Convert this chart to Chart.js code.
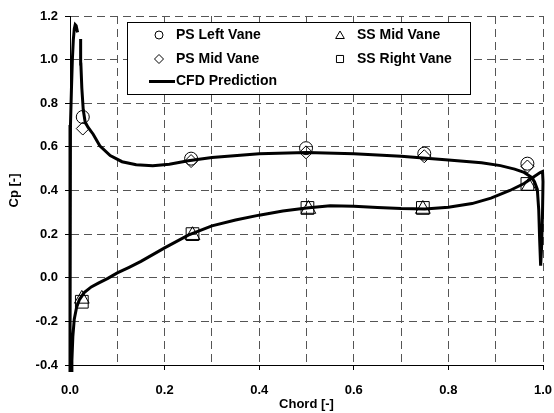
<!DOCTYPE html>
<html>
<head>
<meta charset="utf-8">
<script src="https://cdn.jsdelivr.net/npm/chart.js@4/dist/chart.umd.min.js"></script>
<style>
  body { margin: 0; background: #fff; }
  #wrap { width: 554px; height: 413px; }
</style>
</head>
<body>
<div id="wrap"><canvas id="myChart" width="554" height="413"></canvas></div>
<script>
// measured points
var psLeftX  = [0.027, 0.256, 0.499, 0.749, 0.967];
var psLeftCp = [0.737, 0.546, 0.594, 0.569, 0.523];
var psMidX   = [0.027, 0.256, 0.499, 0.749, 0.967];
var psMidCp  = [0.684, 0.535, 0.575, 0.557, 0.510];
var ssMidX   = [0.025, 0.259, 0.504, 0.746, 0.970];
var ssMidCp  = [-0.097, 0.195, 0.315, 0.315, 0.420];
var ssRightX = [0.025, 0.259, 0.502, 0.746, 0.967];
var ssRightCp = [-0.110, 0.200, 0.320, 0.320, 0.430];

// CFD curve, traced around the vane (leading edge -> SS -> trailing edge -> PS)
var cfdChord = [0.016, 0.013, 0.011, 0.009, 0.007, 0.005, 0.003, 0.001, 0.0, 0.0, 0.0, 0.0,
  0.003, 0.004, 0.006, 0.009, 0.014, 0.02, 0.03, 0.045, 0.06, 0.08, 0.1, 0.125, 0.15, 0.2,
  0.25, 0.3, 0.35, 0.4, 0.45, 0.5, 0.55, 0.6, 0.65, 0.7, 0.75, 0.8, 0.85, 0.89, 0.93, 0.96,
  0.98, 0.994, 0.999, 1.0, 0.999, 0.997, 0.995, 0.993, 0.991, 0.988, 0.982, 0.975, 0.96,
  0.94, 0.91, 0.87, 0.8, 0.7, 0.6, 0.5, 0.4, 0.3, 0.25, 0.21, 0.175, 0.14, 0.11, 0.085,
  0.063, 0.049, 0.038, 0.032, 0.028, 0.025, 0.023, 0.0225];
var cfdCp = [1.125, 1.155, 1.16, 1.14, 1.09, 1.0, 0.86, 0.70, 0.55, 0.2, -0.2, -0.43,
  -0.43, -0.38, -0.27, -0.19, -0.135, -0.1, -0.068, -0.042, -0.025, -0.003, 0.022, 0.048, 0.075, 0.137,
  0.195, 0.238, 0.265, 0.287, 0.306, 0.32, 0.33, 0.328, 0.322, 0.317, 0.315, 0.323, 0.34, 0.365, 0.4, 0.432,
  0.462, 0.482, 0.487, 0.44, 0.3, 0.14, 0.055, 0.17, 0.31, 0.405, 0.44, 0.462, 0.483,
  0.498, 0.514, 0.527, 0.54, 0.557, 0.569, 0.574, 0.569, 0.551, 0.536, 0.52, 0.513, 0.518, 0.532, 0.56,
  0.605, 0.658, 0.69, 0.714, 0.77, 0.87, 0.98, 1.095];

var xTicks = [0.0, 0.2, 0.4, 0.6, 0.8, 1.0];
var yTicks = [-0.4, -0.2, 0.0, 0.2, 0.4, 0.6, 0.8, 1.0, 1.2];

function pts(xs, ys) {
    return xs.map(function(x, i) { return {x: x, y: ys[i]}; });
}

var FONT = "'Liberation Sans', Arial, sans-serif";

function marker(label, xs, ys, style, r) {
    return {
        label: label,
        data: pts(xs, ys),
        pointStyle: style,
        pointRadius: r,
        borderColor: '#000',
        backgroundColor: 'rgba(255,255,255,0)',
        pointBorderWidth: 1,
        showLine: false
    };
}

// legend drawn inside the plot, like the original
var boxLegend = {
    id: 'boxLegend',
    afterDraw: function(chart) {
        var ctx = chart.ctx;
        var ds = chart.data.datasets;
        ctx.save();
        ctx.fillStyle = '#fff';
        ctx.fillRect(127.5, 22.5, 343, 72);
        ctx.strokeStyle = '#000';
        ctx.lineWidth = 1;
        ctx.strokeRect(127.5, 22.5, 343, 72);

        var spots = [
            {i: 0, x: 159, y: 35, r: 4},
            {i: 1, x: 159, y: 59, r: 4.5},
            {i: 2, x: 340, y: 36, r: 5},
            {i: 3, x: 340, y: 59, r: 5}
        ];
        ctx.font = 'bold 14px ' + FONT;
        ctx.textBaseline = 'middle';
        spots.forEach(function(s) {
            ctx.fillStyle = 'rgba(255,255,255,0)';
            ctx.strokeStyle = '#000';
            ctx.lineWidth = 1;
            Chart.helpers.drawPoint(ctx, {pointStyle: ds[s.i].pointStyle, radius: s.r, borderWidth: 1}, s.x, s.y);
            ctx.fillStyle = '#000';
            ctx.fillText(ds[s.i].label, s.x + 17, s.i % 2 === 0 ? 35 : 59);
        });
        ctx.strokeStyle = '#000';
        ctx.lineWidth = 3;
        ctx.beginPath();
        ctx.moveTo(149, 81.5);
        ctx.lineTo(175, 81.5);
        ctx.stroke();
        ctx.fillText(ds[4].label, 176, 81.5);
        ctx.restore();
    }
};

document.addEventListener("DOMContentLoaded", function() {
    var ctx = document.getElementById('myChart').getContext('2d');
    Chart.defaults.font.family = FONT;
    Chart.defaults.color = '#000';

    new Chart(ctx, {
        type: 'scatter',
        data: {
            datasets: [
                marker('PS Left Vane', psLeftX, psLeftCp, 'circle', 6.5),
                marker('PS Mid Vane', psMidX, psMidCp, 'rectRot', 6.5),
                marker('SS Mid Vane', ssMidX, ssMidCp, 'triangle', 8.5),
                marker('SS Right Vane', ssRightX, ssRightCp, 'rect', 9),
                {
                    label: 'CFD Prediction',
                    data: pts(cfdChord, cfdCp),
                    showLine: true,
                    borderColor: '#000',
                    borderWidth: 3,
                    pointRadius: 0,
                    tension: 0,
                    clip: {left: 6, top: 6, right: 6, bottom: 7}
                }
            ]
        },
        options: {
            responsive: false,
            animation: false,
            layout: { padding: { left: 0, right: 11, top: 16, bottom: 0 } },
            plugins: { legend: { display: false }, tooltip: { enabled: false } },
            scales: {
                x: {
                    type: 'linear',
                    min: 0, max: 1,
                    afterFit: function(s) {
                        s.height = 48;
                        s.paddingLeft = 0;
                        s.paddingRight = 0;
                    },
                    afterBuildTicks: function(s) {
                        var t = [];
                        for (var k = 0; k <= 10; k++) t.push({value: k / 10});
                        s.ticks = t;
                    },
                    ticks: {
                        autoSkip: false,
                        maxRotation: 0,
                        padding: 13,
                        font: { size: 13, weight: 'bold' },
                        callback: function(v, i) {
                            return i % 2 === 0 ? xTicks[i / 2].toFixed(1) : '';
                        }
                    },
                    grid: {
                        color: '#555',
                        tickLength: 5,
                        tickColor: function(c) { return c.index % 2 === 0 ? '#000' : 'rgba(0,0,0,0)'; }
                    },
                    border: { color: '#000', width: 1, dash: [8, 5] },
                    title: {
                        display: true, text: 'Chord [-]',
                        font: { size: 13, weight: 'bold' },
                        padding: { top: 0, bottom: 1 }
                    }
                },
                y: {
                    type: 'linear',
                    min: -0.4, max: 1.2,
                    afterFit: function(s) {
                        s.width = 70;
                        s.paddingTop = 0;
                        s.paddingBottom = 0;
                    },
                    afterBuildTicks: function(s) {
                        s.ticks = yTicks.map(function(v) { return {value: v}; });
                    },
                    ticks: {
                        padding: 7,
                        font: { size: 13, weight: 'bold' },
                        callback: function(v, i) { return yTicks[i].toFixed(1); }
                    },
                    grid: { color: '#555', tickLength: 5, tickColor: '#000' },
                    border: { color: '#000', width: 1, dash: [8, 5] },
                    title: {
                        display: true, text: 'Cp [-]',
                        font: { size: 13, weight: 'bold' },
                        padding: { top: 7, bottom: 0 }
                    }
                }
            }
        },
        plugins: [boxLegend]
    });
});
</script>
</body>
</html>
